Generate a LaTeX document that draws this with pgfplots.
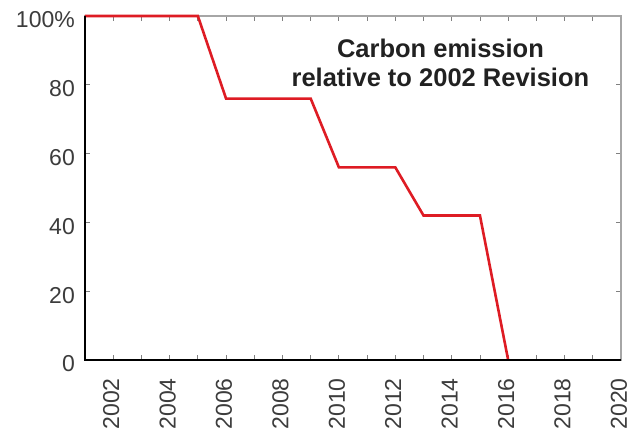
\documentclass[border=0pt]{standalone}
\usepackage{fontspec}
\setmainfont{Liberation Sans}
\usepackage{pgfplots}
\pgfplotsset{compat=1.18}
\definecolor{lred}{RGB}{222,28,36}
\definecolor{tickgray}{RGB}{60,60,60}
\begin{document}
\begin{tikzpicture}
\begin{axis}[
    scale only axis,
    width=536pt, height=344pt,
    xmin=2001, xmax=2020, ymin=0, ymax=100,
    xtick={2002,2004,...,2020},
    minor xtick={2001,2003,...,2019},
    ytick={0,20,...,100},
    yticklabels={0,20,40,60,80,100\%},
    tick align=inside,
    major tick length=5pt, minor tick length=5pt,
    tick style={gray, line width=0.8pt},
    axis line style={gray!70, line width=1.5pt},
    /pgf/number format/assume math mode=true,
    /pgf/number format/1000 sep={},
    tick label style={font=\fontsize{23}{26}\selectfont, text=tickgray},
    xticklabel style={xshift=-2pt, rotate=90, anchor=east, inner sep=0pt},
    xticklabel shift=18pt,
    yticklabel style={inner sep=0pt, yshift=-4pt},
    yticklabel shift=10pt,
    clip=false,
]
\addplot[lred, line width=2.6pt, line join=miter] coordinates {
    (2001,100) (2005,100) (2006,76) (2009,76) (2010,56)
    (2012,56) (2013,42) (2015,42) (2016,0)
};
\draw[black, line width=2.2pt] (rel axis cs:0,1) -- (rel axis cs:0,0) -- (rel axis cs:1,0);
\node[font=\fontsize{25.5}{29}\selectfont\bfseries, text=black!87, align=center]
    at (axis cs:2013.6,86.3) {Carbon emission\\relative to 2002 Revision};
\end{axis}
\pgfresetboundingbox
\path (-85pt,-75pt) rectangle (546pt,360pt);
\end{tikzpicture}
\end{document}
